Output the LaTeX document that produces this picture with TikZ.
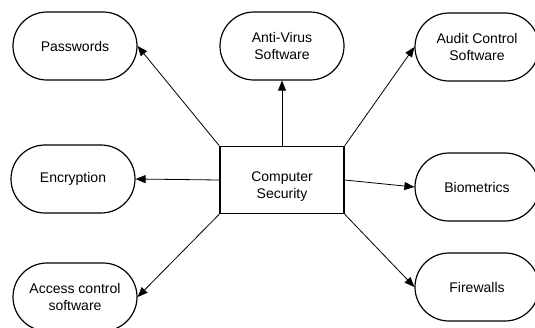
\documentclass[tikz,border=0pt]{standalone}
\usepackage{fontspec}
\setmainfont{Liberation Sans}
\usetikzlibrary{arrows.meta,shapes.misc}
\begin{document}
\begin{tikzpicture}[x=1pt,y=-1pt,
  term/.style={draw,line width=1.2pt,rounded rectangle,minimum width=124pt,minimum height=68pt,inner sep=0pt,align=center,font=\fontsize{14pt}{17pt}\selectfont},
  core/.style={draw,line width=1.3pt,rectangle,minimum width=124pt,minimum height=67pt,inner sep=0pt,font=\fontsize{14pt}{17pt}\selectfont},
  arr/.style={line width=0.8pt,-{Triangle[length=10pt,width=8pt]}}]
\useasboundingbox (0,0) rectangle (535,327);
\node[core] (cs) at (282,180) {\raisebox{-10pt}[0pt][0pt]{\begin{tabular}{@{}c@{}}Computer\\Security\end{tabular}}};
\node[term] (pw) at (75,46) {Passwords};
\node[term] (av) at (282,46) {Anti-Virus\\Software};
\node[term] (au) at (477,47) {Audit Control\\Software};
\node[term] (en) at (73,179) {Encryption};
\node[term] (bi) at (477,187) {Biometrics};
\node[term] (ac) at (75,297) {Access control\\software};
\node[term] (fw) at (477,287) {Firewalls};
\draw[arr] (cs.north west) -- (pw.east);
\draw[arr] (cs.north) -- (av.south);
\draw[arr] (cs.north east) -- (au.west);
\draw[arr] (cs.west) -- (en.east);
\draw[arr] (cs.east) -- (bi.west);
\draw[arr] (cs.south west) -- (ac.east);
\draw[arr] (cs.south east) -- (fw.west);
\end{tikzpicture}
\end{document}
